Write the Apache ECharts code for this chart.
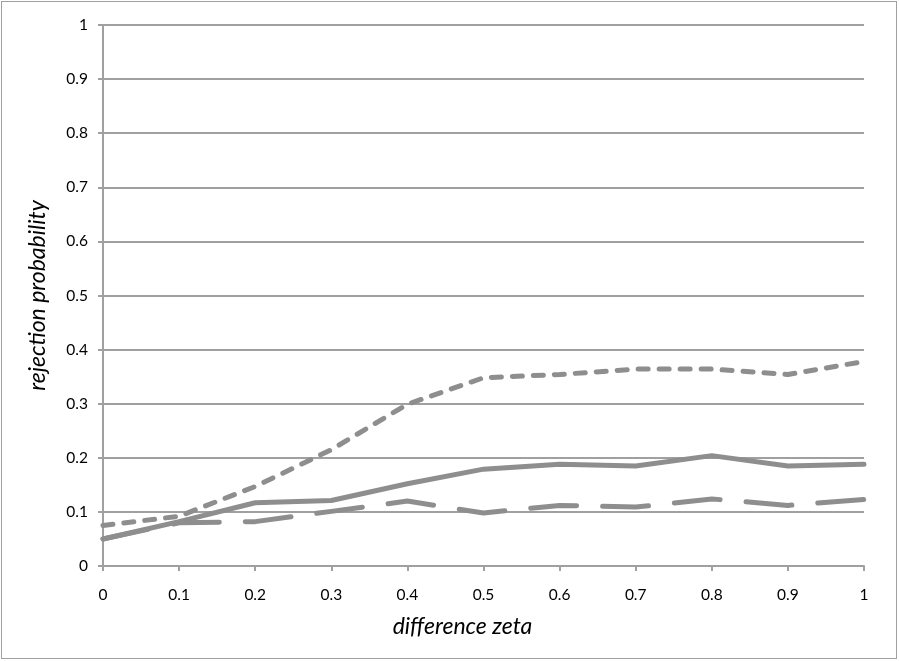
<!DOCTYPE html>
<html>
<head>
<meta charset="utf-8">
<script src="https://cdn.jsdelivr.net/npm/echarts@6/dist/echarts.min.js"></script>
<style>
html,body{margin:0;padding:0;background:#fff;}
#frame{position:absolute;left:1px;top:1px;width:896px;height:658px;border:1px solid #a0a0a0;box-sizing:border-box;}
#chart{position:absolute;left:0;top:0;width:899px;height:661px;}
</style>
</head>
<body>
<div id="frame"></div>
<div id="chart"></div>
<script>
const xValues = [0, 0.1, 0.2, 0.3, 0.4, 0.5, 0.6, 0.7, 0.8, 0.9, 1];
const solidSeries = [0.05, 0.082, 0.117, 0.121, 0.152, 0.179, 0.188, 0.185, 0.204, 0.185, 0.188];
const shortDashSeries = [0.075, 0.092, 0.147, 0.215, 0.299, 0.348, 0.354, 0.364, 0.364, 0.354, 0.378];
const longDashSeries = [0.05, 0.080, 0.082, 0.101, 0.120, 0.098, 0.112, 0.109, 0.124, 0.112, 0.123];

const font = 'Lato, "Open Sans", sans-serif';
const lineColor = '#8e8e8e';
function pairs(vals){ return xValues.map((x,i)=>[x, vals[i]]); }

const chart = echarts.init(document.getElementById('chart'), null, {renderer:'canvas'});
chart.setOption({
  animation:false,
  grid:{left:103, right:35, top:25, bottom:95, containLabel:false},
  xAxis:{
    type:'value', min:0, max:1, interval:0.1,
    name:'difference zeta', nameLocation:'middle', nameGap:49,
    nameTextStyle:{fontFamily:font, fontStyle:'italic', fontSize:23, color:'#000', padding:[0,42,0,0]},
    axisLine:{show:true, onZero:false, lineStyle:{color:'#a0a0a0', width:2}},
    axisTick:{show:true, length:5, lineStyle:{color:'#a0a0a0', width:2}},
    axisLabel:{fontFamily:font, fontSize:15.5, color:'#000', margin:21,
      formatter:v=>String(Math.round(v*10)/10)},
    splitLine:{show:false}
  },
  yAxis:{
    type:'value', min:0, max:1, interval:0.1,
    name:'rejection probability', nameLocation:'middle', nameGap:54, nameRotate:90,
    nameTextStyle:{fontFamily:font, fontStyle:'italic', fontSize:23, color:'#000'},
    axisLine:{show:true, lineStyle:{color:'#a0a0a0', width:2}},
    axisTick:{show:true, length:5, lineStyle:{color:'#a0a0a0', width:2}},
    axisLabel:{fontFamily:font, fontSize:15.5, color:'#000', margin:15, padding:[5,0,0,0],
      formatter:v=>String(Math.round(v*10)/10)},
    splitLine:{show:true, lineStyle:{color:'#a0a0a0', width:2}}
  },
  series:[
    {type:'line', data:pairs(solidSeries), symbol:'none', smooth:false,
     lineStyle:{color:lineColor, width:5, cap:'round', join:'round'}},
    {type:'line', data:pairs(shortDashSeries), symbol:'none',
     lineStyle:{color:lineColor, width:5, type:[10,11], cap:'round', join:'round'}},
    {type:'line', data:pairs(longDashSeries), symbol:'none',
     lineStyle:{color:lineColor, width:5, type:[46,26], cap:'round', join:'round'}}
  ]
});
</script>
</body>
</html>
